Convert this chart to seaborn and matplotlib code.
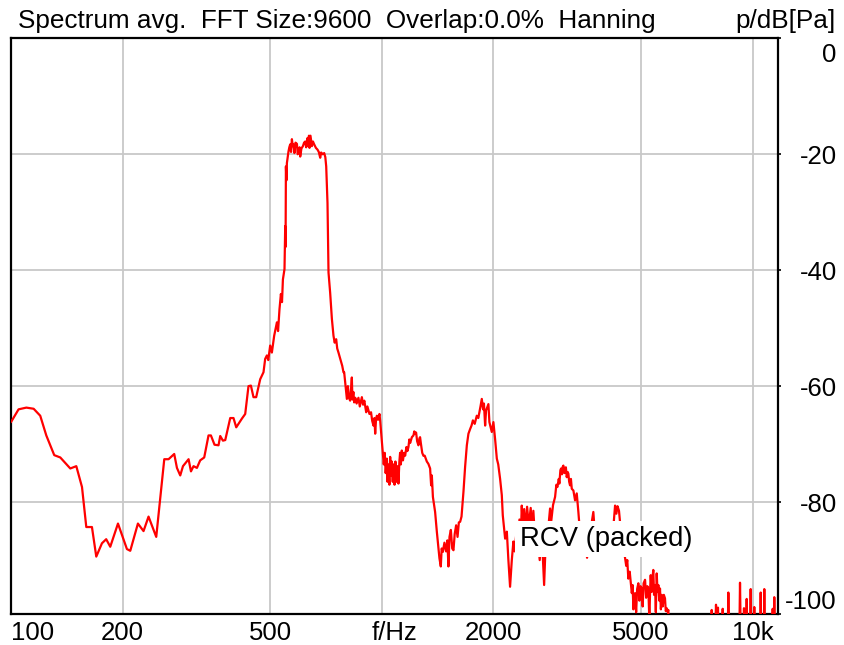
import matplotlib
matplotlib.use("Agg")
import matplotlib.pyplot as plt
import matplotlib.transforms as mtransforms
import seaborn as sns
import pandas as pd

# spectrum, split into bands (Hz, dB re 1 Pa)
low_freq = [100, 104.8, 110.0, 115.1, 119.9, 124.5, 130.8, 135.8, 144.5, 150.0,
            155.4, 159.6, 165.3, 169.8, 175.9, 180.6, 185.2, 194.3, 205.4, 209.7,
            219.9, 227.7, 234.9, 246.4, 259.0, 266.0, 275.5, 280.2, 286.0, 290.9,
            301.2, 305.7, 310.6, 317.2, 323.7, 331.9, 340.9, 346.0, 353.8, 362.7,
            366.6, 372.8, 378.2, 390.1, 398.1, 404.9, 419.4, 428.1, 436.9, 443.5,
            450.7, 458.3, 469.9]
low_db = [-66.2, -64.0, -63.7, -63.9, -65.1, -68.5, -71.9, -72.3, -74.2, -73.8,
          -77.4, -84.3, -84.3, -89.4, -87.1, -86.4, -87.7, -83.7, -88.1, -88.4,
          -83.7, -85.0, -82.5, -86.0, -72.6, -72.6, -71.7, -74.1, -75.4, -73.8,
          -72.6, -74.7, -73.8, -74.1, -72.8, -72.3, -68.5, -68.5, -70.1, -70.2,
          -68.6, -69.4, -69.3, -65.5, -65.5, -67.1, -65.6, -64.8, -60.0, -59.9,
          -61.9, -61.9, -58.8]

peak_freq = [479.6, 484.6, 489.8, 494.0, 499.9, 505.2, 512.5, 521.2, 525.0, 529.7,
             534.3, 538.0, 541.0, 546.4, 548.8, 550.0, 551.2, 553.0, 554.6, 560.2,
             563.0, 566.1, 569.0, 572.1, 575.0, 577.8, 581.0, 585.0, 590.2, 593.0,
             596.1, 600.0, 602.4, 607.0, 612.6, 617.0, 621.4, 625.0, 630.3, 633.0,
             636.0, 638.2, 642.0, 647.7, 652.0, 657.0, 664.0, 670.6, 676.0, 682.0,
             686.0, 692.0, 699.1, 704.0, 707.9, 713.6, 718.1, 725.5, 733.3, 740.6,
             746.0, 753.1, 758.0, 763.9, 770.0, 776.9, 782.0, 788.0]
peak_db = [-57.6, -55.3, -54.7, -55.5, -53.0, -54.2, -51.3, -49.0, -50.5, -46.7,
           -44.1, -45.5, -41.6, -39.8, -32.4, -36.0, -22.1, -24.5, -21.5, -19.5,
           -18.8, -18.3, -19.6, -17.4, -18.6, -18.3, -19.8, -18.0, -18.2, -20.0,
           -19.8, -18.8, -20.4, -19.0, -18.6, -18.0, -17.8, -18.8, -17.2, -18.6,
           -16.8, -18.9, -16.8, -18.6, -17.8, -18.3, -18.9, -19.2, -19.6, -20.6,
           -19.7, -20.0, -19.8, -20.5, -22.1, -28.4, -40.4, -43.9, -48.4, -51.3,
           -52.5, -51.9, -53.5, -54.2, -55.0, -55.9, -56.5, -57.6]

mid_freq = [791.4, 796.4, 804.8, 810.0, 815.0, 821.4, 826.0, 830.0, 833.0, 838.0,
            842.0, 848.0, 855.0, 864.8, 872.0, 883.3, 890.0, 897.0, 907.3, 914.0,
            920.3, 926.0, 935.0, 942.0, 949.4, 955.0, 959.5, 964.0, 969.4, 977.0,
            985.2, 990.0, 993.8, 1000.0, 1006.0, 1012.0, 1018.0, 1024.0, 1031.6, 1036.0,
            1041.8, 1048.0, 1053.0, 1059.0, 1064.0, 1070.0, 1076.0, 1082.0, 1088.0, 1096.0,
            1102.0, 1108.6, 1115.0, 1120.0, 1125.3, 1132.0, 1140.0, 1148.0, 1155.7, 1165.0,
            1172.0, 1179.6, 1186.0, 1192.2, 1205.0, 1216.9, 1223.0, 1229.7, 1237.0, 1245.0,
            1255.0, 1262.8, 1268.0, 1273.8, 1285.0, 1294.5, 1305.0, 1322.2, 1335.0, 1349.5,
            1358.0]
mid_db = [-57.6, -59.3, -62.2, -60.0, -62.0, -62.5, -60.5, -58.5, -62.3, -61.0,
          -62.8, -62.0, -63.0, -62.0, -63.5, -61.9, -63.2, -62.5, -64.5, -63.5,
          -64.2, -64.8, -64.5, -66.0, -66.8, -65.5, -68.2, -66.0, -65.1, -65.8,
          -64.8, -66.0, -67.4, -69.5, -71.4, -73.5, -71.5, -75.0, -72.5, -76.5,
          -73.5, -77.0, -72.2, -75.5, -73.0, -76.5, -73.5, -77.0, -73.0, -76.5,
          -73.8, -76.8, -73.0, -71.5, -73.5, -71.1, -72.8, -71.5, -72.0, -70.5,
          -71.2, -70.5, -69.2, -69.8, -68.8, -68.5, -67.8, -68.2, -68.0, -69.5,
          -70.2, -69.0, -68.8, -69.8, -71.5, -72.0, -72.0, -73.0, -73.4, -74.2,
          -77.1]

hump_freq = [1364, 1373, 1392, 1407, 1430, 1442, 1450, 1460, 1475, 1490,
             1502, 1512, 1522, 1535, 1548, 1560, 1572, 1586, 1600, 1613,
             1626, 1640, 1660, 1677, 1695, 1712, 1730, 1745, 1760, 1780,
             1803, 1820, 1833, 1845, 1860, 1875, 1885, 1899, 1910, 1938,
             1950, 1979, 1999, 2020, 2042, 2060, 2084, 2106, 2119, 2150,
             2173, 2194, 2217, 2241, 2263, 2280, 2312]
hump_db = [-75.4, -79.1, -81.7, -85.1, -89.7, -91.1, -88.0, -88.6, -87.0, -88.5,
           -86.6, -91.1, -86.0, -84.8, -88.0, -88.3, -85.5, -84.0, -86.0, -83.5,
           -83.4, -82.5, -78.2, -73.9, -70.2, -68.2, -67.4, -66.8, -65.9, -66.5,
           -65.1, -65.5, -64.5, -63.5, -62.2, -64.0, -63.0, -66.8, -64.2, -63.1,
           -66.2, -67.9, -66.2, -69.1, -72.5, -73.5, -76.0, -78.8, -82.3, -86.3,
           -85.1, -90.0, -94.6, -90.0, -86.8, -88.5, -84.6]

upper_freq = [2330, 2350, 2370, 2384, 2400, 2420, 2445, 2464, 2490, 2520,
              2545, 2562, 2590, 2625, 2650, 2665, 2690, 2715, 2739, 2760,
              2790, 2815, 2842, 2860, 2872, 2895, 2932, 2955, 2974, 3000,
              3011, 3030, 3043, 3060, 3075, 3087, 3105, 3119, 3135, 3152,
              3170, 3184, 3200, 3217, 3235, 3252, 3285, 3319, 3354, 3388,
              3410, 3440, 3470, 3500, 3540, 3576, 3610, 3660, 3700, 3718,
              3740, 3790, 3840, 3876, 3930, 3960, 3998, 4040, 4080, 4125,
              4170, 4220, 4255, 4290, 4320, 4360, 4389, 4430, 4480, 4527,
              4560, 4590, 4620, 4660, 4700, 4721, 4745, 4768, 4790, 4817,
              4850, 4880, 4917, 4950, 4985, 5022, 5050, 5080, 5126, 5160,
              5200, 5232, 5265, 5290, 5309, 5340, 5370, 5395, 5420, 5453,
              5480, 5510, 5540, 5567, 5600, 5624, 5655, 5684, 5720, 5760,
              5801, 5830, 5864, 5900, 5922, 5960]
upper_db = [-87.5, -83.0, -86.0, -80.6, -84.5, -81.2, -85.0, -80.8, -84.0, -81.0,
            -85.5, -81.5, -86.5, -85.0, -88.0, -90.0, -86.5, -89.0, -94.3, -88.5,
            -86.0, -84.0, -81.1, -83.5, -82.5, -80.5, -79.1, -77.0, -77.4, -76.0,
            -76.8, -74.5, -74.2, -75.2, -73.9, -73.7, -75.0, -74.8, -74.0, -75.7,
            -74.8, -75.1, -76.5, -77.1, -76.0, -77.7, -78.0, -79.7, -78.5, -81.7,
            -84.0, -86.5, -84.5, -89.2, -87.0, -89.6, -86.5, -84.5, -82.5, -81.7,
            -84.0, -86.5, -88.0, -89.2, -86.5, -88.8, -89.0, -86.0, -88.5, -89.1,
            -86.0, -83.5, -80.6, -82.0, -80.7, -81.5, -83.5, -85.5, -88.0, -89.6,
            -91.0, -90.0, -93.2, -92.0, -94.5, -95.7, -94.3, -98.5, -96.0, -95.7,
            -99.0, -95.0, -94.0, -97.0, -94.5, -94.9, -98.0, -94.0, -93.4, -96.5,
            -94.5, -95.0, -100.5, -95.0, -92.6, -95.5, -93.0, -91.7, -96.0, -94.3,
            -99.0, -92.3, -95.5, -94.3, -97.0, -94.9, -98.5, -96.0, -98.0, -96.0,
            -96.6, -98.8, -98.3, -99.0, -98.6, -103.0]

hf_freq = [6100, 6600, 7200, 7650, 7720, 7753, 7790, 7920, 7963, 8010,
           8040, 8060, 8090, 8260, 8301, 8340, 8560, 8597, 8640, 9200,
           9243, 9290, 9430, 9474, 9520, 9590, 9634, 9680, 9830, 9876,
           9920, 10060, 10099, 10140, 10470, 10509, 10550, 10710, 10748, 10790,
           11280, 11322, 11360, 11400, 11434, 11480, 11700]
hf_db = [-108.0, -110.0, -109.0, -104.0, -104.0, -98.6, -104.0, -103.0, -97.7, -103.0,
         -103.0, -98.2, -103.0, -104.0, -98.4, -104.0, -104.0, -95.6, -104.0, -104.0,
         -93.9, -104.0, -104.0, -98.3, -104.0, -104.0, -96.7, -104.0, -104.0, -95.0,
         -104.0, -104.0, -98.1, -104.0, -104.0, -95.6, -104.0, -104.0, -95.0, -104.0,
         -104.0, -98.4, -104.0, -104.0, -96.4, -104.0, -104.0]

x_ticks = [100, 200, 500, 1000, 2000, 5000, 10000]
x_tick_labels = ["100", "200", "500", "", "2000", "5000", "10k"]
y_ticks = [0, -20, -40, -60, -80, -99.3]
y_tick_labels = ["", "-20", "-40", "-60", "-80", "-100"]

df = pd.DataFrame({
    "freq_hz": low_freq + peak_freq + mid_freq + hump_freq + upper_freq + hf_freq,
    "level_db": low_db + peak_db + mid_db + hump_db + upper_db + hf_db,
})

sns.set_style("white")
plt.rcParams["font.family"] = ["Liberation Sans", "DejaVu Sans"]
plt.rcParams["font.size"] = 18.5
plt.rcParams["text.color"] = "black"
plt.rcParams["xtick.color"] = "black"
plt.rcParams["ytick.color"] = "black"

W, H = 844, 645
fig = plt.figure(figsize=(W / 100, H / 100), dpi=100)
ax = fig.add_axes([11 / W, 1 - 614 / H, (777.7 - 11) / W, (614 - 38.3) / H])

sns.lineplot(data=df, x="freq_hz", y="level_db", color="#ff0000", linewidth=1.6,
             sort=False, estimator=None, ax=ax, zorder=3)

ax.set_xscale("log")
ax.set_xlim(100, 11680)
ax.set_ylim(-99.3, 0)
ax.set_xlabel("")
ax.set_ylabel("")

ax.set_xticks(x_ticks)
ax.set_xticklabels(x_tick_labels)
ax.minorticks_off()
ax.tick_params(axis="x", length=0, pad=5, labelsize=18.5, colors="black")
ax.get_xticklabels()[0].set_ha("left")

ax.yaxis.tick_right()
ax.set_yticks(y_ticks)
ax.set_yticklabels(y_tick_labels)
ax.tick_params(axis="y", direction="out", length=2.2, width=1.2, pad=40.3,
               labelsize=18.5, colors="black")
for lbl in ax.get_yticklabels():
    lbl.set_ha("right")
ax.get_yticklabels()[-1].set_va("bottom")

ax.grid(True, color="#c8c8c8", linewidth=1.3)
ax.set_axisbelow(True)
for sp in ax.spines.values():
    sp.set_visible(True)
    sp.set_color("black")
    sp.set_linewidth(1.6)

# top label of the level axis sits a bit below the frame
trans_y = mtransforms.blended_transform_factory(ax.transAxes, ax.transData)
off0 = mtransforms.ScaledTranslation(59 / 100, -4.5 / 100, fig.dpi_scale_trans)
ax.text(1, 0, "0", transform=trans_y + off0, ha="right", va="top", fontsize=18.5)

# axis unit under the 1 kHz line
trans = mtransforms.blended_transform_factory(ax.transData, ax.transAxes)
off = mtransforms.ScaledTranslation(13 / 100, -5 / 72, fig.dpi_scale_trans)
ax.text(1000, 0, "f/Hz", transform=trans + off, ha="center", va="top", fontsize=18.5)

ax.text(2360, -87.5, "RCV (packed)", ha="left", va="baseline", fontsize=19.8, zorder=5,
        bbox=dict(boxstyle="square,pad=0.18", facecolor="white", edgecolor="none"))

fig.text(18.3 / W, 1 - 28.3 / H, "Spectrum avg.  FFT Size:9600  Overlap:0.0%  Hanning",
         ha="left", va="baseline", fontsize=18.8)
fig.text(836 / W, 1 - 28.3 / H, "p/dB[Pa]", ha="right", va="baseline", fontsize=18.8)

fig.savefig("out.png", dpi=100)
